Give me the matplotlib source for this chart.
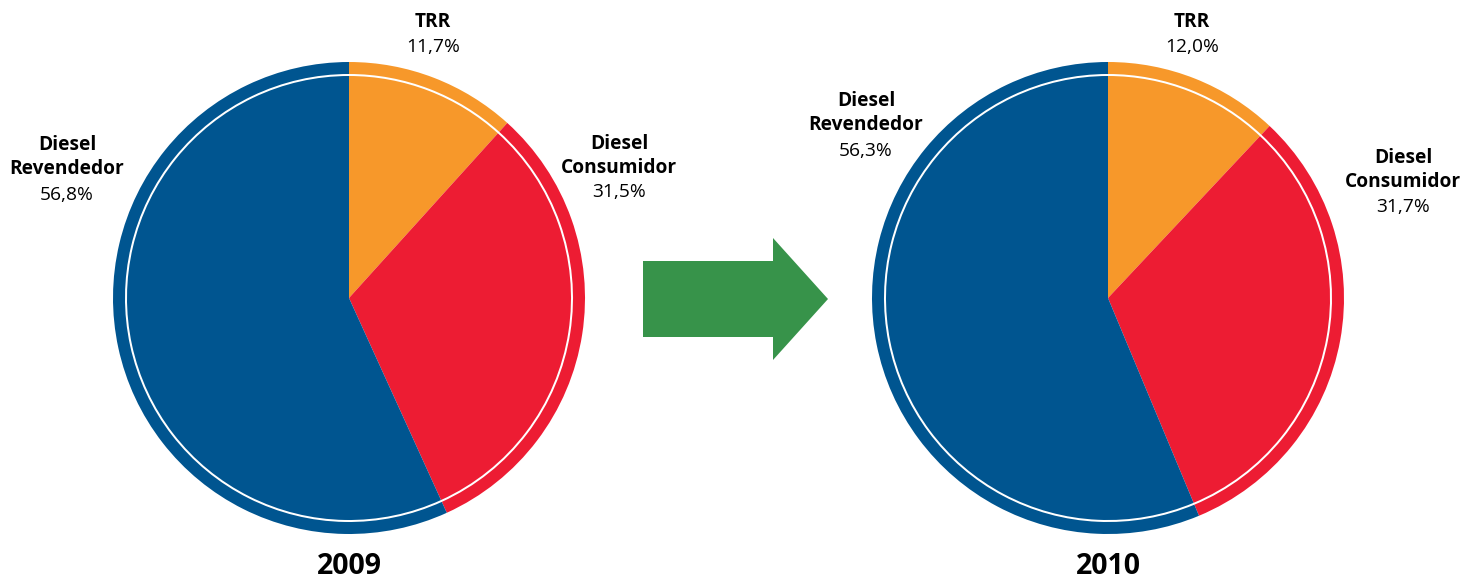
import matplotlib.pyplot as plt
import matplotlib.patches as mpatches

plt.rcParams['font.family'] = ['Open Sans', 'DejaVu Sans']

# market share by segment, clockwise from the top
segments = ["TRR", "Diesel\nConsumidor", "Diesel\nRevendedor"]
share_2009 = [11.7, 31.5, 56.8]
share_2010 = [12.0, 31.7, 56.3]
years = ["2009", "2010"]
colors = ["#F7982A", "#ED1C33", "#005590"]

fig = plt.figure(figsize=(14.6, 5.78), dpi=100)
ax = fig.add_axes([0, 0, 1, 1])

centers = [(349, 280), (1108, 280)]
# label anchor positions (x, y of the name, y of the percentage)
label_pos = [
    [(433, 556, 531), (619, 422, 386), (67, 421, 383)],
    [(1192, 556, 531), (1403, 408, 371), (866, 465, 427)],
]


def fmt(v):
    return f"{v:.1f}".replace(".", ",") + "%"


for values, center, year, lp in zip([share_2009, share_2010], centers, years, label_pos):
    # outer ring
    ax.pie(values, colors=colors, startangle=90, counterclock=False,
           center=center, radius=236, frame=True,
           wedgeprops=dict(width=12, linewidth=0))
    # inner pie, white gap left between it and the ring
    ax.pie(values, colors=colors, startangle=90, counterclock=False,
           center=center, radius=222, frame=True,
           wedgeprops=dict(linewidth=0))
    for name, v, (x, yn, yp) in zip(segments, values, lp):
        ax.text(x, yn, name, ha='center', va='center', fontsize=13.8,
                fontweight='bold', linespacing=1.3)
        ax.text(x, yp, fmt(v), ha='center', va='center', fontsize=13.8)
    ax.text(center[0], 12, year, ha='center', va='center', fontsize=20.5,
            fontweight='bold')

ax.set_xlim(0, 1460)
ax.set_ylim(0, 578)
ax.set_aspect('equal')
ax.axis('off')

arrow = mpatches.FancyArrow(643, 279, 185, 0, width=76, head_width=122,
                            head_length=55, length_includes_head=True,
                            color="#37934A", linewidth=0)
ax.add_patch(arrow)

fig.savefig("out.png", dpi=100)
